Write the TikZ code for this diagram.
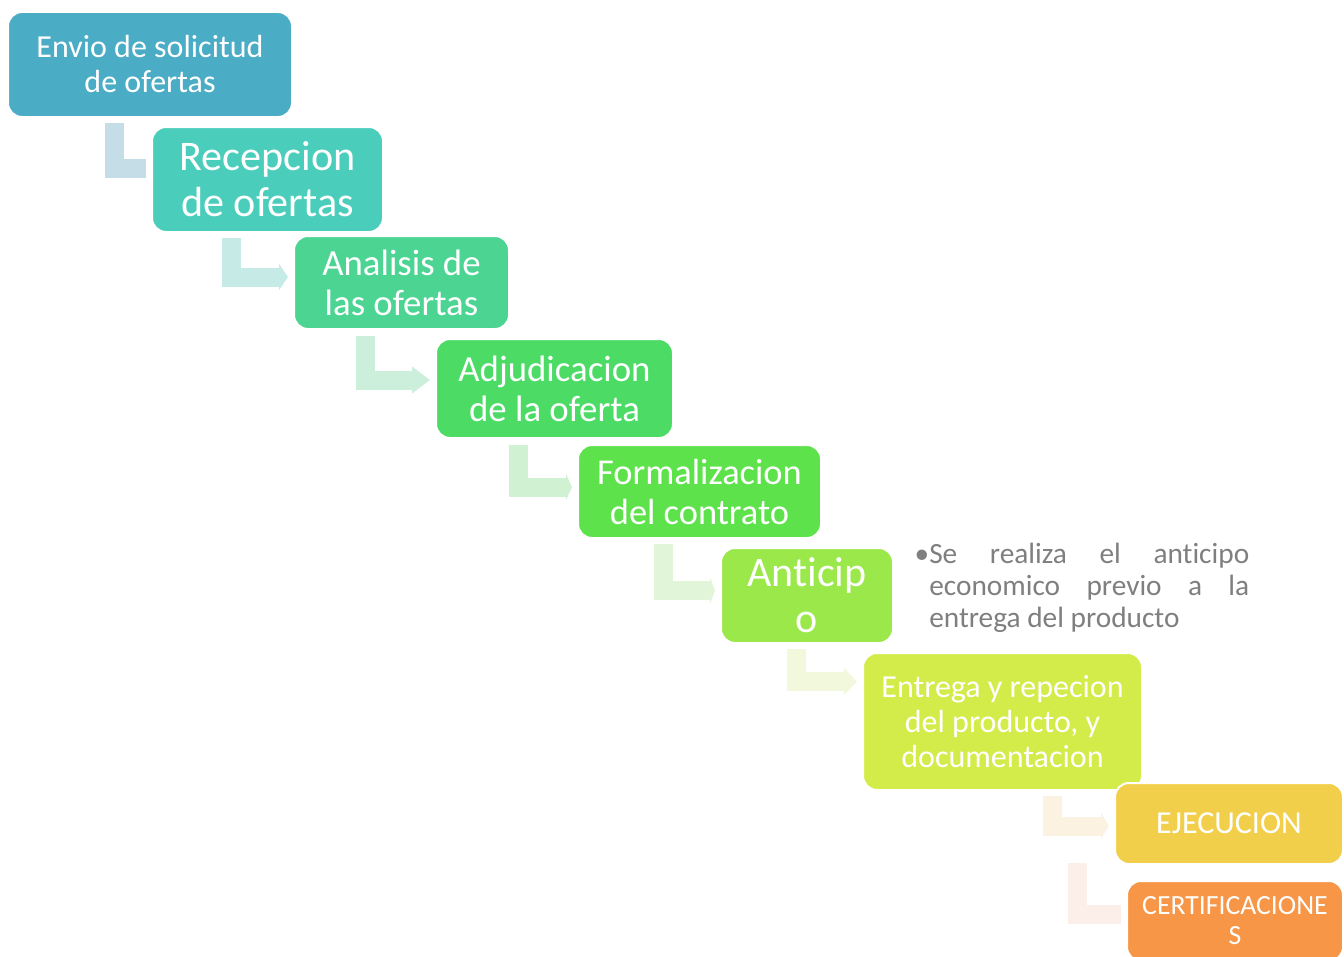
\documentclass[tikz,border=0pt]{standalone}
\usepackage{fontspec}
\setmainfont{Carlito}[Ligatures=NoCommon]
\usetikzlibrary{arrows.meta,calc,backgrounds}
\definecolor{b1}{HTML}{4BACC6}
\definecolor{b2}{HTML}{4BCDBB}
\definecolor{b3}{HTML}{4CD493}
\definecolor{b4}{HTML}{4CDC66}
\definecolor{b5}{HTML}{5EE24C}
\definecolor{b6}{HTML}{9BE84A}
\definecolor{b7}{HTML}{D4EC4A}
\definecolor{b8}{HTML}{F2CF4A}
\definecolor{b9}{HTML}{F79646}
\definecolor{c1}{HTML}{C4DDE6}
\definecolor{c2}{HTML}{C6EAE5}
\definecolor{c3}{HTML}{CBEFDA}
\definecolor{c4}{HTML}{D0F2D2}
\definecolor{c5}{HTML}{E1F6D9}
\definecolor{c6}{HTML}{F1F8DB}
\definecolor{c7}{HTML}{FBF2E2}
\definecolor{c8}{HTML}{FCEEE9}
\definecolor{notegray}{HTML}{7F7F7F}
\begin{document}
\begin{tikzpicture}[x=0.75pt,y=-0.75pt,
  box/.style={rounded corners=10.5pt, draw=white, line width=1.5pt, text=white,
    align=center, inner sep=0pt},
  bent/.style={line width=14.25pt, line join=miter, line cap=butt},
  notetext/.style={text=notegray, text width=240pt, align=justify, inner sep=0pt,
    font={\fontsize{22}{24}\selectfont}}
]
\useasboundingbox (0,0) rectangle (1344,956);
\begin{scope}
\clip (0,0) rectangle (1344,956);
\node[box, fill=b1, minimum width=213pt, minimum height=78.75pt,
  font={\fontsize{24}{26.25}\selectfont}] (n1) at (150,64.5) {Envio de solicitud\\de ofertas};
\node[box, fill=b2, minimum width=173.25pt, minimum height=78.75pt,
  font={\fontsize{31.6}{34.5}\selectfont}] (n2) at (267.5,179.5) {Recepcion\\de ofertas};
\node[box, fill=b3, minimum width=161.25pt, minimum height=69.75pt,
  font={\fontsize{27.6}{30}\selectfont}] (n3) at (401.5,282.5) {Analisis de\\las ofertas};
\node[box, fill=b4, minimum width=177.75pt, minimum height=74.25pt,
  font={\fontsize{27.6}{30}\selectfont}] (n4) at (554.5,388.5) {Adjudicacion\\de la oferta};
\node[box, fill=b5, minimum width=182.25pt, minimum height=69.75pt,
  font={\fontsize{27.3}{30}\selectfont}] (n5) at (699.5,491.5) {Formalizacion\\del contrato};
\node[box, fill=b6, minimum width=129pt, minimum height=71.25pt,
  font={\fontsize{31.5}{34.5}\selectfont}] (n6) at (807,595.5) {Ant\kern0pt icip\\o};
\node[box, fill=b7, minimum width=209.25pt, minimum height=102.75pt,
  font={\fontsize{24}{26.25}\selectfont}] (n7) at (1002.5,721.5) {Entrega y repecion\\del producto, y\\documentacion};
\node[box, fill=b8, minimum width=171pt, minimum height=60.75pt,
  font={\fontsize{24}{26.25}\selectfont}] (n8) at (1229,823.5) {EJECUCION};
\node[box, fill=b9, minimum width=162pt, minimum height=60pt,
  font={\fontsize{20.8}{22.5}\selectfont}] (n9) at (1235,921) {CERTIFICACIONE\\S};
\end{scope}
\node[notetext, anchor=base west] (note) at (929,563)
  {\llap{•}Se realiza el ant\kern0pt icipo\linebreak economico previo a la\linebreak entrega del producto};
\begin{scope}[on background layer]
\draw[bent, c1] ($(n1.south west)+(107.5,5)$) |- ($(n2.west)+(-5,-11.5)$);
\draw[bent, c2, -{Triangle[length=6.75pt, width=19.5pt]}] ($(n2.south west)+(80,5)$) |- ($(n3.west)+(-5,-5.5)$);
\draw[bent, c3, -{Triangle[length=13.5pt, width=19.5pt]}] ($(n3.south west)+(72,6)$) |- ($(n4.west)+(-5,-8.5)$);
\draw[bent, c4, -{Triangle[length=4.5pt, width=19.5pt]}] ($(n4.south west)+(83,6)$) |- ($(n5.west)+(-5,-4.5)$);
\draw[bent, c5, -{Triangle[length=3.75pt, width=19.5pt]}] ($(n5.south west)+(86.5,5)$) |- ($(n6.west)+(-5,-5)$);
\draw[bent, c6, -{Triangle[length=9.75pt, width=19.5pt]}] ($(n6.south west)+(76,5)$) |- ($(n7.west)+(-5,-40)$);
\draw[bent, c7, -{Triangle[length=6pt, width=19.5pt]}] ($(n7.south west)+(190.5,5)$) |- ($(n8.west)+(-5,2.5)$);
\draw[bent, c8] ($(n8.south west)+(-36.5,-2)$) |- ($(n9.west)+(-5,-6.5)$);
\end{scope}
\end{tikzpicture}
\end{document}
